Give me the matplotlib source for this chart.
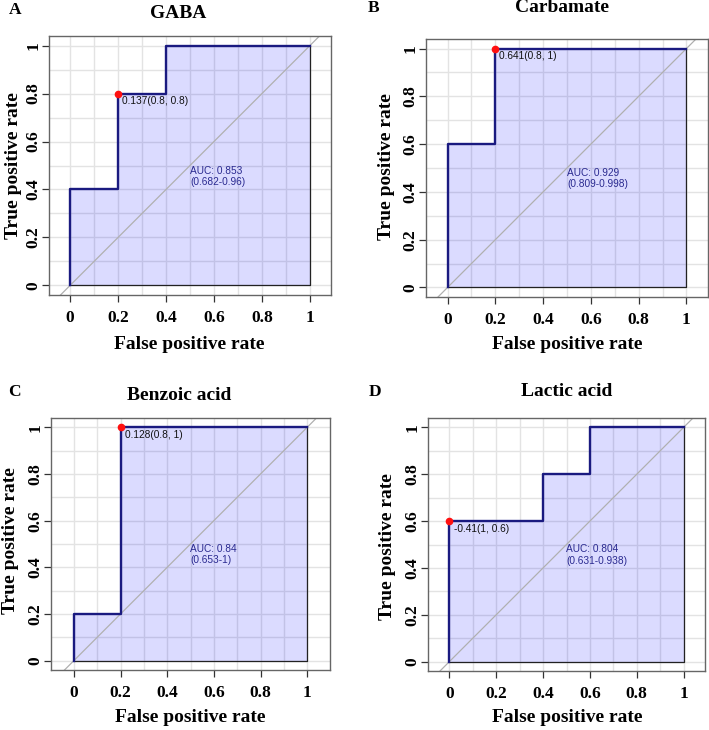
import numpy as np
import matplotlib
matplotlib.use('Agg')
import matplotlib.pyplot as plt

W, H = 709, 730

# ROC curves (false positive rate, true positive rate)
names = ['GABA', 'Carbamate', 'Benzoic acid', 'Lactic acid']
letters = ['A', 'B', 'C', 'D']
fpr_gaba = [0, 0, 0.2, 0.2, 0.4, 0.4, 1]
tpr_gaba = [0, 0.4, 0.4, 0.8, 0.8, 1, 1]
fpr_carb = [0, 0, 0.2, 0.2, 1]
tpr_carb = [0, 0.6, 0.6, 1, 1]
fpr_benz = [0, 0, 0.2, 0.2, 1]
tpr_benz = [0, 0.2, 0.2, 1, 1]
fpr_lact = [0, 0, 0.4, 0.4, 0.6, 0.6, 1]
tpr_lact = [0, 0.6, 0.6, 0.8, 0.8, 1, 1]
fprs = [fpr_gaba, fpr_carb, fpr_benz, fpr_lact]
tprs = [tpr_gaba, tpr_carb, tpr_benz, tpr_lact]

# best threshold points and their labels
best_x = [0.2, 0.2, 0.2, 0.0]
best_y = [0.8, 1.0, 1.0, 0.6]
best_txt = ['0.137(0.8, 0.8)', '0.641(0.8, 1)', '0.128(0.8, 1)', '-0.41(1, 0.6)']
auc_txt = ['AUC: 0.853\n(0.682-0.96)', 'AUC: 0.929\n(0.809-0.998)',
           'AUC: 0.84\n(0.653-1)', 'AUC: 0.804\n(0.631-0.938)']

# layout in pixels: box (left, top, right, bottom)
boxes = [(49, 36, 331, 295), (426, 39, 708, 297),
         (51, 418, 330, 670), (428, 418, 705, 671)]
title_pos = [(178, 13), (562, 8), (179, 395), (567, 391)]
letter_pos = [(15, 10), (374, 8), (14, 392), (375, 392)]
xlab_pos = [(189, 344), (567, 344), (190, 718), (567, 717)]
ylab_pos = [(14, 166), (386, 167), (11, 541), (388, 547)]

serif = 'Liberation Serif'
sans = 'Liberation Sans'


def fx(px):
    return px / W


def fy(py):
    return 1 - py / H


fig = plt.figure(figsize=(W / 100, H / 100), dpi=100)

for i in range(4):
    l, t, r, b = boxes[i]
    ax = fig.add_axes([fx(l), fy(b), (r - l) / W, (b - t) / H])
    ylo, yhi = -0.04, 1.04
    xr = (r - l) / (b - t) * (yhi - ylo)
    ax.set_ylim(ylo, yhi)
    ax.set_xlim(0.5 - xr / 2, 0.5 + xr / 2)

    for g in np.arange(0, 1.01, 0.1):
        ax.axvline(g, color='#e3e3e3', lw=1, zorder=0)
        ax.axhline(g, color='#e3e3e3', lw=1, zorder=0)

    xs = fprs[i] + [1, 0]
    ys = tprs[i] + [0, 0]
    ax.fill(xs, ys, facecolor='#0000ff', alpha=0.14, edgecolor='none', zorder=1)
    ax.plot([1, 1, 0], [1, 0, 0], color='#222222', lw=0.9, zorder=2)
    ax.axline((0, 0), (1, 1), color='#b0b0b0', lw=0.9, zorder=2)
    ax.plot(fprs[i], tprs[i], color='#1a1a80', lw=1.7, zorder=3)

    ax.plot(best_x[i], best_y[i], 'o', color='#ff1010', ms=4.5, zorder=4)
    ax.annotate(best_txt[i], (best_x[i], best_y[i]), xytext=(3, -2),
                textcoords='offset points', ha='left', va='top',
                fontsize=7.3, family=sans, color='#111111', zorder=5)
    ax.text(0.5, 0.5, auc_txt[i], ha='left', va='top', fontsize=7.3,
            family=sans, color='#2a2a90', linespacing=1.15, zorder=5)

    ticks = [0, 0.2, 0.4, 0.6, 0.8, 1]
    labs = ['0', '0.2', '0.4', '0.6', '0.8', '1']
    ax.set_xticks(ticks)
    ax.set_xticklabels(labs, family=serif, fontweight='bold', fontsize=12.5)
    ax.set_yticks(ticks)
    ax.set_yticklabels(labs, family=serif, fontweight='bold', fontsize=12.5,
                       rotation=90, va='center')
    ax.tick_params(direction='out', length=5, width=0.9, color='#333333')
    ax.tick_params(axis='x', pad=6)
    ax.tick_params(axis='y', pad=0.5)
    for s in ax.spines.values():
        s.set_color('#666666')
        s.set_linewidth(1.0)

    fig.text(fx(title_pos[i][0]), fy(title_pos[i][1]), names[i], ha='center',
             va='center', family=serif, fontweight='bold', fontsize=14)
    fig.text(fx(letter_pos[i][0]), fy(letter_pos[i][1]), letters[i], ha='center',
             va='center', family=serif, fontweight='bold', fontsize=12.5)
    fig.text(fx(xlab_pos[i][0]), fy(xlab_pos[i][1]), 'False positive rate',
             ha='center', va='center', family=serif, fontweight='bold', fontsize=14)
    fig.text(fx(ylab_pos[i][0]), fy(ylab_pos[i][1]), 'True positive rate',
             ha='center', va='center', rotation=90, family=serif,
             fontweight='bold', fontsize=14)

fig.savefig('out.png', dpi=100)
